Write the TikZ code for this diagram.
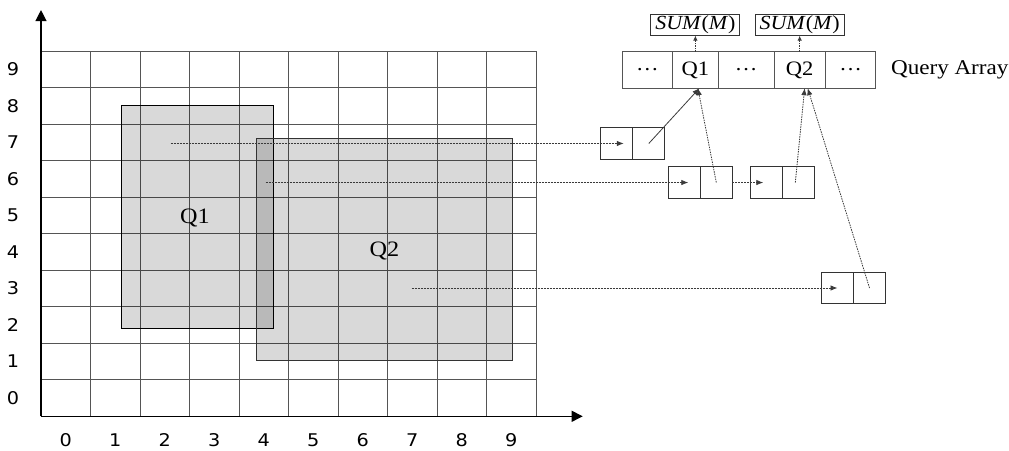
\documentclass[tikz,border=0pt]{standalone}
\usepackage{fontspec}
\setmainfont{Liberation Serif}[FakeStretch=1.1]
\newfontfamily\axisfont{DejaVu Sans}[FakeStretch=1.1]
\usepackage{tikz}
\usetikzlibrary{positioning,arrows.meta,calc}
\definecolor{gridgray}{HTML}{555555}
\definecolor{linkgray}{HTML}{3A3A3A}
\tikzset{
  cellbox/.style={draw=gridgray, line width=0.9pt, minimum height=36.6pt, inner sep=0pt, outer sep=0pt, font=\fontsize{20.5}{20.5}\selectfont},
  listbox/.style={draw=black!80, line width=0.9pt, minimum width=32pt, minimum height=31.5pt, inner sep=0pt, outer sep=0pt},
  sumbox/.style={draw=black!80, line width=0.9pt, minimum width=89pt, minimum height=21.4pt, inner sep=0pt, outer sep=0pt, font=\fontsize{20}{20}\selectfont},
  link/.style={linkgray, line width=0.8pt, dash pattern=on 2pt off 1pt, -{Latex[length=7pt,width=5.5pt]}},
  ptr/.style={linkgray, line width=0.8pt, dash pattern=on 1.5pt off 1pt, -{Latex[length=7pt,width=5.5pt]}},
  axislabel/.style={font=\axisfont\fontsize{17.5}{17.5}\selectfont, inner sep=0pt},
  qlabel/.style={font=\fontsize{22}{22}\selectfont, inner sep=0pt},
}
\begin{document}
\begin{tikzpicture}[x=49.5pt, y=36.5pt]
  \useasboundingbox (-41pt,-33.7pt) rectangle (968pt,416.3pt);
  \foreach \i in {0,...,10} {
    \draw[gridgray, line width=1pt] (\i,0) -- (\i,10);
    \draw[gridgray, line width=1pt] (0,\i) -- (10,\i);
  }
  \draw[black, line width=0.9pt, fill=black, fill opacity=0.15] (1.62,2.42) rectangle (4.69,8.52);
  \draw[black!80, line width=0.9pt, fill=black, fill opacity=0.15] (4.36,1.53) rectangle (9.52,7.62);
  \draw[line width=1.2pt, -{Triangle[length=11pt,width=11pt]}] (0,0) -- (0,11.13);
  \draw[line width=1.2pt, -{Triangle[length=11pt,width=11pt]}] (0,0) -- (10.943,0);
  \foreach \i in {0,...,9} {
    \node[axislabel] (xl\i) at (\i+0.5,-0.649) {\i};
    \node[axislabel] (yl\i) at (-0.566,\i+0.5) {\i};
  }
  \node[qlabel] (q1lab) at (3.11,5.43) {Q1};
  \node[qlabel] (q2lab) at (6.94,4.53) {Q2};

  \node[cellbox, minimum width=50.4pt] (arr1) at (12.25,9.49) {\dots};
  \node[cellbox, minimum width=45.6pt, right=0pt of arr1] (arr2) {Q1};
  \node[cellbox, minimum width=56pt, right=0pt of arr2] (arr3) {\dots};
  \node[cellbox, minimum width=51pt, right=0pt of arr3] (arr4) {Q2};
  \node[cellbox, minimum width=50.7pt, right=0pt of arr4] (arr5) {\dots};
  \node[right=15pt of arr5, inner sep=0pt, font=\fontsize{21}{21}\selectfont] (qarray) {Query Array};
  \node[sumbox, above=16pt of arr2] (sum1) {\textit{SUM}(\textit{M})};
  \node[sumbox, above=16pt of arr4] (sum2) {\textit{SUM}(\textit{M})};
  \draw[ptr, -{Latex[length=5pt,width=4.5pt]}] (arr2.north) -- (sum1.south);
  \draw[ptr, -{Latex[length=5pt,width=4.5pt]}] (arr4.north) -- (sum2.south);

  \node[listbox] (e1l) at (11.632,7.474) {};
  \node[listbox, right=0pt of e1l] (e1r) {};
  \node[listbox] (e2l) at (12.996,6.405) {};
  \node[listbox, right=0pt of e2l] (e2r) {};
  \node[listbox, right=18pt of e2r] (e3l) {};
  \node[listbox, right=0pt of e3l] (e3r) {};
  \node[listbox] (e4l) at (16.091,3.515) {};
  \node[listbox, right=0pt of e4l] (e4r) {};

  \coordinate (s1) at (2.62,7.474);
  \coordinate (s2) at (4.54,6.405);
  \coordinate (s3) at (7.489,3.515);
  \draw[link] (s1) -- ([xshift=7pt]e1l.center);
  \draw[link] (s2) -- ([xshift=4pt]e2l.center);
  \draw[link] (e2r.east) -- ([xshift=-3pt]e3l.center);
  \draw[link] (s3) -- (e4l.center);

  \draw[linkgray, line width=0.8pt, -{Latex[length=7pt,width=5.5pt]}] (e1r.center) -- ([xshift=4pt]arr2.south);
  \draw[ptr] (e2r.center) -- ([xshift=2.5pt]arr2.south);
  \draw[ptr] ([xshift=-3pt]e3r.center) -- ([xshift=5pt]arr4.south);
  \draw[ptr] (e4r.center) -- ([xshift=8pt]arr4.south);
\end{tikzpicture}
\end{document}
